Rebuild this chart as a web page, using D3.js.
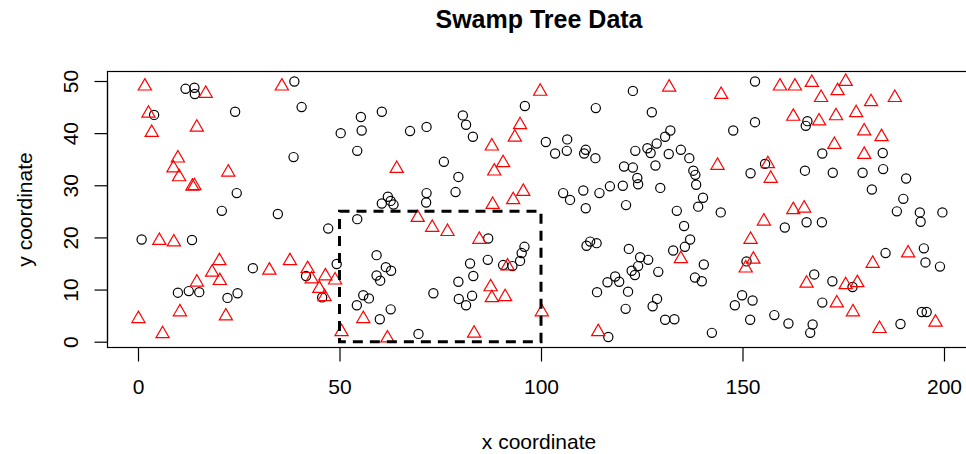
<!DOCTYPE html>
<html>
<head>
<meta charset="utf-8">
<script src="https://cdn.jsdelivr.net/npm/d3@7"></script>
<style>
  body { margin: 0; background: #fff; }
  svg text { font-family: "Liberation Sans", Arial, Helvetica, sans-serif; }
</style>
</head>
<body>
<svg id="chart" width="966" height="454"></svg>
<script>
// black circles
const circlePts = [
  [11.8,48.5],[14.0,48.7],[14.1,47.5],[38.8,49.9],[4.0,43.5],[24.1,44.1],[40.6,45.0],[38.6,35.4],
  [24.5,28.5],[20.8,25.1],[34.7,24.5],[50.3,40.0],[55.3,43.1],[55.5,40.5],[54.4,36.6],[60.5,44.1],
  [67.5,40.4],[71.6,41.2],[80.6,43.4],[81.4,41.6],[83.1,39.3],[96.0,45.2],[75.9,34.5],[79.5,31.6],
  [78.8,28.7],[71.6,28.5],[71.5,26.7],[62.0,27.8],[62.7,27.0],[60.5,26.5],[63.4,26.3],[122.8,48.1],
  [113.6,44.8],[127.5,44.0],[153.1,49.9],[153.1,42.1],[147.7,40.5],[152.0,32.3],[101.2,38.3],[103.5,36.1],
  [106.5,38.8],[106.4,36.6],[111.1,36.8],[110.7,36.1],[113.5,35.2],[123.4,36.6],[126.4,37.1],[127.2,36.2],
  [128.7,38.0],[130.8,39.3],[132.1,40.5],[131.7,36.0],[134.7,36.8],[136.8,35.2],[120.6,33.6],[122.8,33.4],
  [128.4,33.8],[137.8,32.8],[138.3,32.0],[123.9,31.4],[124.1,30.2],[138.5,30.1],[129.6,29.5],[120.3,29.9],
  [117.1,29.8],[114.5,28.5],[110.5,29.0],[105.5,28.5],[107.2,27.2],[111.1,25.6],[121.1,26.2],[140.2,27.6],
  [139.0,25.9],[133.7,25.1],[144.6,24.8],[166.1,42.3],[165.7,41.4],[169.8,36.1],[184.8,36.2],[155.6,34.1],
  [165.5,32.8],[172.4,32.4],[179.8,32.4],[184.9,33.1],[190.6,31.3],[182.1,29.2],[189.9,27.4],[188.3,25.0],
  [194.0,24.8],[194.2,23.0],[199.6,24.8],[0.9,19.6],[13.4,19.5],[9.9,9.4],[12.6,9.7],[15.2,9.5],
  [22.2,8.4],[24.7,9.3],[28.5,14.1],[41.7,12.6],[45.7,8.5],[47.2,21.7],[54.4,23.5],[49.3,14.9],
  [59.2,16.6],[61.5,14.3],[62.8,13.6],[59.2,12.7],[60.1,11.7],[55.9,8.9],[57.3,8.3],[54.3,7.0],
  [62.7,6.2],[60.0,4.3],[69.6,1.5],[73.3,9.3],[79.5,11.5],[82.4,15.0],[83.2,12.6],[79.6,8.2],
  [82.9,8.8],[81.4,7.0],[86.9,19.8],[86.8,15.7],[90.6,14.7],[92.9,14.5],[94.8,15.5],[95.2,17.0],
  [95.9,18.2],[135.5,22.2],[111.3,18.4],[112.2,19.2],[113.8,18.9],[121.8,17.8],[124.6,16.2],[126.6,15.7],
  [124.1,14.5],[122.5,13.6],[123.3,12.8],[129.1,13.4],[118.4,12.5],[116.5,11.4],[119.4,11.5],[113.9,9.5],
  [121.6,9.6],[128.8,8.2],[127.7,6.8],[121.0,6.3],[130.8,4.2],[133.1,4.3],[116.7,0.9],[142.4,1.7],
  [132.8,17.5],[135.7,18.2],[137.0,19.6],[140.4,14.8],[138.2,12.3],[139.9,11.6],[148.1,7.0],[149.9,8.9],
  [151.9,4.2],[152.5,7.9],[151.0,15.4],[160.5,21.9],[165.9,22.9],[169.7,22.9],[185.5,17.0],[195.0,17.9],
  [195.4,15.2],[199.0,14.4],[167.8,12.9],[172.3,11.6],[177.3,10.5],[169.8,7.5],[157.9,5.1],[161.4,3.5],
  [167.4,3.3],[166.8,1.7],[189.2,3.4],[194.5,5.7],[195.7,5.7]
];

// red triangles
const trianglePts = [
  [1.7,49.0],[16.8,47.6],[35.7,49.0],[2.6,43.8],[3.4,40.1],[14.6,41.1],[9.9,35.2],[8.8,33.3],
  [10.2,31.6],[22.4,32.5],[13.5,29.8],[14.0,29.9],[99.8,48.0],[94.8,41.6],[93.5,39.2],[87.8,37.5],
  [90.6,34.3],[88.4,32.7],[64.2,33.2],[95.6,28.8],[93.1,27.2],[88.0,26.3],[69.4,23.8],[131.8,48.8],
  [144.7,47.4],[143.8,33.8],[159.3,49.0],[163.0,49.0],[167.2,49.7],[175.6,49.9],[173.6,48.1],[169.5,46.8],
  [181.9,46.0],[187.8,46.8],[162.6,43.2],[169.0,42.3],[173.2,43.3],[178.2,43.9],[180.2,40.4],[184.5,39.3],
  [172.8,37.8],[180.2,35.9],[156.3,34.1],[157.0,31.3],[162.6,25.3],[165.3,25.6],[155.3,23.1],[5.3,19.4],
  [8.9,19.1],[20.2,15.5],[18.4,13.3],[20.3,11.7],[14.6,11.4],[32.6,13.7],[37.7,15.5],[42.1,14.0],
  [43.1,12.0],[45.0,10.2],[46.5,12.6],[46.3,8.6],[48.9,11.8],[0.1,4.4],[6.1,1.5],[10.4,5.7],
  [21.8,4.9],[73.0,21.9],[76.8,21.1],[84.7,19.6],[91.7,14.5],[87.5,10.5],[87.8,8.4],[91.1,8.6],
  [55.9,4.4],[50.5,1.9],[61.9,0.7],[83.4,1.6],[100.2,5.7],[134.7,15.9],[114.2,1.9],[152.0,19.6],
  [152.7,15.8],[150.8,14.1],[182.3,15.0],[191.1,17.0],[165.9,11.2],[175.6,10.9],[178.5,11.3],[173.4,7.4],
  [177.4,5.7],[184.0,2.5],[197.9,3.7]
];

const xTicks = [0, 50, 100, 150, 200];
const yTicks = [0, 10, 20, 30, 40, 50];
const regionX = [50, 100];
const regionY = [0, 25];

const svg = d3.select('#chart');
const x = d3.scaleLinear().domain([0, 200]).range([138, 944]);
const y = d3.scaleLinear().domain([0, 50]).range([341.7, 81]);
const box = { left: 107.5, right: 971, top: 71.5, bottom: 347.5 };

// frame
svg.append('rect')
  .attr('x', box.left).attr('y', box.top)
  .attr('width', box.right - box.left).attr('height', box.bottom - box.top)
  .attr('fill', 'none').attr('stroke', '#000').attr('stroke-width', 1.2);

// x axis
const xAxis = d3.axisBottom(x).tickValues(xTicks).tickSize(14).tickPadding(18).tickFormat(d3.format('d'));
const gx = svg.append('g').attr('transform', `translate(0,${box.bottom})`).call(xAxis);
gx.select('.domain').attr('d', `M${x(0)},0H${x(200)}`).attr('stroke-width', 1.2);
gx.selectAll('.tick line').attr('stroke-width', 1.2);
gx.selectAll('.tick text').attr('font-size', '21px').attr('fill', '#000')
  .attr('font-family', '"Liberation Sans", Arial, sans-serif');

// y axis
const yAxis = d3.axisLeft(y).tickValues(yTicks).tickSize(13).tickPadding(0).tickFormat(d3.format('d'));
const gy = svg.append('g').attr('transform', `translate(${box.left},0)`).call(yAxis);
gy.select('.domain').attr('d', `M0,${y(0)}V${y(50)}`).attr('stroke-width', 1.2);
gy.selectAll('.tick line').attr('stroke-width', 1.2);
gy.selectAll('.tick text')
  .attr('x', null).attr('dy', null)
  .attr('transform', 'translate(-37,0) rotate(-90)')
  .attr('text-anchor', 'middle').attr('dominant-baseline', 'central')
  .attr('font-size', '21px').attr('fill', '#000')
  .attr('font-family', '"Liberation Sans", Arial, sans-serif');

// labels
svg.append('text').attr('x', 539).attr('y', 28).attr('text-anchor', 'middle')
  .attr('font-size', '25px').attr('font-weight', 'bold').text('Swamp Tree Data');
svg.append('text').attr('x', 539).attr('y', 449).attr('text-anchor', 'middle')
  .attr('font-size', '21px').text('x coordinate');
svg.append('text').attr('transform', `translate(24,${(box.top + box.bottom) / 2}) rotate(-90)`)
  .attr('text-anchor', 'middle').attr('dominant-baseline', 'central')
  .attr('font-size', '21px').text('y coordinate');

// points
svg.append('g').selectAll('circle').data(circlePts).join('circle')
  .attr('cx', d => x(d[0])).attr('cy', d => y(d[1])).attr('r', 4.6)
  .attr('fill', 'none').attr('stroke', '#000').attr('stroke-width', 1.2);

const R = 4.9;
const tri = `M0,${-1.5551 * R}L${1.3468 * R},${0.7776 * R}L${-1.3468 * R},${0.7776 * R}Z`;
svg.append('g').selectAll('path').data(trianglePts).join('path')
  .attr('transform', d => `translate(${x(d[0])},${y(d[1])})`)
  .attr('d', tri)
  .attr('fill', 'none').attr('stroke', '#ff0000').attr('stroke-width', 1.2);

// dashed region
svg.append('rect')
  .attr('x', x(regionX[0])).attr('y', y(regionY[1]))
  .attr('width', x(regionX[1]) - x(regionX[0])).attr('height', y(regionY[0]) - y(regionY[1]))
  .attr('fill', 'none').attr('stroke', '#000').attr('stroke-width', 3)
  .attr('stroke-dasharray', '10,7');
</script>
</body>
</html>
